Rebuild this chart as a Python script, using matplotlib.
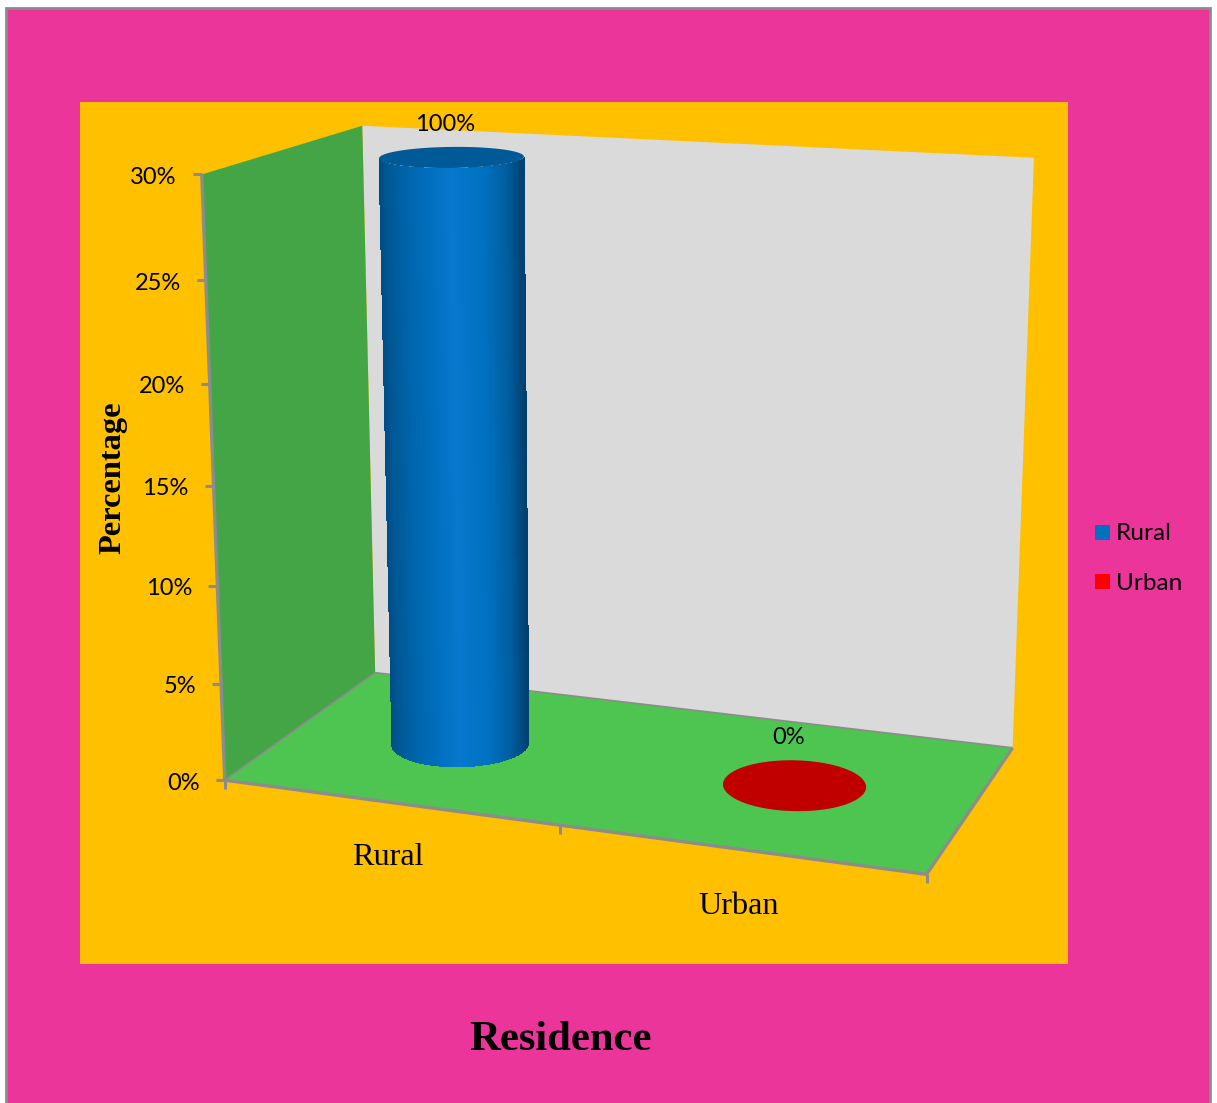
#!/usr/bin/env python3
import numpy as np
import matplotlib
matplotlib.use("Agg")
import matplotlib.pyplot as plt
from matplotlib.colors import LinearSegmentedColormap
from matplotlib.patches import Polygon, Rectangle

categories = ["Rural", "Urban"]
percentages = [100, 0]
z_ticks = [0, 5, 10, 15, 20, 25, 30]

Z_MAX = z_ticks[-1]
RADIUS_X = 0.197
RADIUS_D = 0.198
GREY = "#8c8c8c"
SANS = "Lato"
SERIF = "Liberation Serif"


def fit_camera():
    # box corners (category, depth, percent) and where they land on the canvas
    world = [(0, 0, 0), (2, 0, 0), (0, 1, 0), (2, 1, 0),
             (0, 0, 30), (0, 1, 30), (2, 1, 30)]
    canvas = [(225, 780), (926, 875), (375, 673), (1013, 747),
              (202, 174), (362, 126), (1034, 158)]
    rows, rhs = [], []
    for (x, d, z), (u, v) in zip(world, canvas):
        rows.append([x, d, z, 1, 0, 0, 0, 0, -u*x, -u*d, -u*z])
        rows.append([0, 0, 0, 0, x, d, z, 1, -v*x, -v*d, -v*z])
        rhs += [u, v]
    p = np.linalg.lstsq(np.array(rows, float), np.array(rhs, float), rcond=None)[0]
    return np.append(p, 1).reshape(3, 4)


CAMERA = fit_camera()


def project(x, d, z):
    x, d, z = np.broadcast_arrays(x, d, z)
    pts = CAMERA @ np.stack([x, d, z, np.ones_like(x)], dtype=float).reshape(4, -1)
    return np.column_stack([pts[0]/pts[2], pts[1]/pts[2]])


def face(ax, corners, color):
    pts = project(*np.array(corners, float).T)
    ax.add_patch(Polygon(pts, closed=True, fc=color, ec="none", zorder=2))


def edge(ax, a, b, lw=1.2):
    pts = project(*np.array([a, b], float).T)
    ax.plot(pts[:, 0], pts[:, 1], color=GREY, lw=lw, zorder=3, solid_capstyle="butt")


def circle(cx, z, angles):
    return project(cx + RADIUS_X*np.cos(angles), 0.5 + RADIUS_D*np.sin(angles), z)


def near_arc(cx, z, count=160):
    # the part of a ring facing the viewer, from its leftmost to its rightmost point
    angles = np.linspace(np.pi/2, 5*np.pi/2, 1441)
    xs = circle(cx, z, angles)[:, 0]
    return circle(cx, z, np.linspace(angles[xs.argmin()], angles[xs.argmax()], count))


def cylinder(ax, cx, height, cmap, cap_color):
    if height > 0:
        low = near_arc(cx, 0)
        high = near_arc(cx, height)
        span = (low[:, 0] - low[0, 0])/(low[-1, 0] - low[0, 0])
        shades = ((span[:-1] + span[1:])/2).reshape(1, -1)
        ax.pcolormesh(np.vstack([low[:, 0], high[:, 0]]), np.vstack([low[:, 1], high[:, 1]]),
                      shades, cmap=cmap, vmin=0, vmax=1, shading="flat",
                      antialiased=False, zorder=4)
    cap = circle(cx, height, np.linspace(0, 2*np.pi, 181))
    ax.add_patch(Polygon(cap, closed=True, fc=cap_color, ec="none", zorder=5))


fig = plt.figure(figsize=(12.17, 11.03), dpi=100, facecolor="white")
ax = fig.add_axes([0, 0, 1, 1])

# page background and plot area
ax.add_patch(Rectangle((5.5, 7.5), 1204, 1097, fc="#ec359a", ec=GREY, lw=2, zorder=0))
ax.add_patch(Rectangle((80, 102), 988, 862, fc="#ffc000", ec="none", zorder=1))

# walls and floor
x_end = len(categories)
face(ax, [(0, 1, 0), (x_end, 1, 0), (x_end, 1, Z_MAX), (0, 1, Z_MAX)], "#dadada")
face(ax, [(0, 0, 0), (0, 1, 0), (0, 1, Z_MAX), (0, 0, Z_MAX)], "#43a546")
face(ax, [(0, 0, 0), (x_end, 0, 0), (x_end, 1, 0), (0, 1, 0)], "#4ec551")

edge(ax, (0, 0, 0), (0, 0, Z_MAX), lw=2.4)
edge(ax, (0, 0, 0), (x_end, 0, 0), lw=2.4)
edge(ax, (x_end, 0, 0), (x_end, 1, 0), lw=2.4)
edge(ax, (0, 0, 0), (0, 1, 0))
edge(ax, (0, 1, 0), (x_end, 1, 0))

# value axis
for tick in z_ticks:
    (u, v), = project(0, 0, tick)
    ax.plot([u - 9, u], [v, v], color=GREY, lw=2.2, zorder=3, solid_capstyle="butt")
    ax.text(u - 25, v + 3, f"{tick}%", ha="right", va="center",
            fontsize=17, family=SANS, color="black", zorder=6)

# category axis
for pos in range(x_end + 1):
    (u, v), = project(pos, 0, 0)
    ax.plot([u, u], [v, v + 9], color=GREY, lw=2.2, zorder=3, solid_capstyle="butt")
for pos, (name, drop) in enumerate(zip(categories, [55, 57])):
    (u, v), = project(pos + 0.5, 0, 0)
    ax.text(u - 1, v + drop, name, ha="center", va="center",
            fontsize=23.2, family=SERIF, color="black", zorder=6)

# columns, clipped at the top of the value axis
blue_side = LinearSegmentedColormap.from_list(
    "blue_side", [(0, "#004c84"), (0.05, "#005793"), (0.18, "#0064aa"), (0.35, "#006fbe"),
                  (0.5, "#0878cf"), (0.72, "#0070c0"), (0.88, "#005e9e"), (1, "#003f6e")])
red_side = LinearSegmentedColormap.from_list("red_side", ["#900000", "#c00000", "#900000"])
styles = [(blue_side, "#005a97"), (red_side, "#c00000")]
label_offsets = [(-7, -33), (-6, -48)]
for pos, (value, style, shift) in enumerate(zip(percentages, styles, label_offsets)):
    height = min(value, Z_MAX)
    cylinder(ax, pos + 0.5, height, style[0], style[1])
    (u, v), = project(pos + 0.5, 0.5, height)
    ax.text(u + shift[0], v + shift[1], f"{value}%", ha="center", va="center",
            fontsize=17, family=SANS, color="black", zorder=6)

# legend
legend_colors = ["#0070c0", "#ff0000"]
for name, color, top, drop in zip(categories, legend_colors, [525, 574], [8, 9]):
    ax.add_patch(Rectangle((1095, top), 15, 15, fc=color, ec="none", zorder=6))
    ax.text(1116, top + drop, name, ha="left", va="center",
            fontsize=17.6, family=SANS, color="black", zorder=6)

# axis titles
ax.text(113, 478, "Percentage", rotation=90, ha="center", va="center",
        fontsize=23.3, family=SERIF, weight="bold", color="black", zorder=6)
ax.text(561, 1040, "Residence", ha="center", va="center",
        fontsize=30.7, family=SERIF, weight="bold", color="black", zorder=6)

# pcolormesh resets the view, so the canvas limits are set last
ax.set_xlim(0, 1217)
ax.set_ylim(1103, 0)
ax.axis("off")

fig.savefig("out.png", dpi=100)
